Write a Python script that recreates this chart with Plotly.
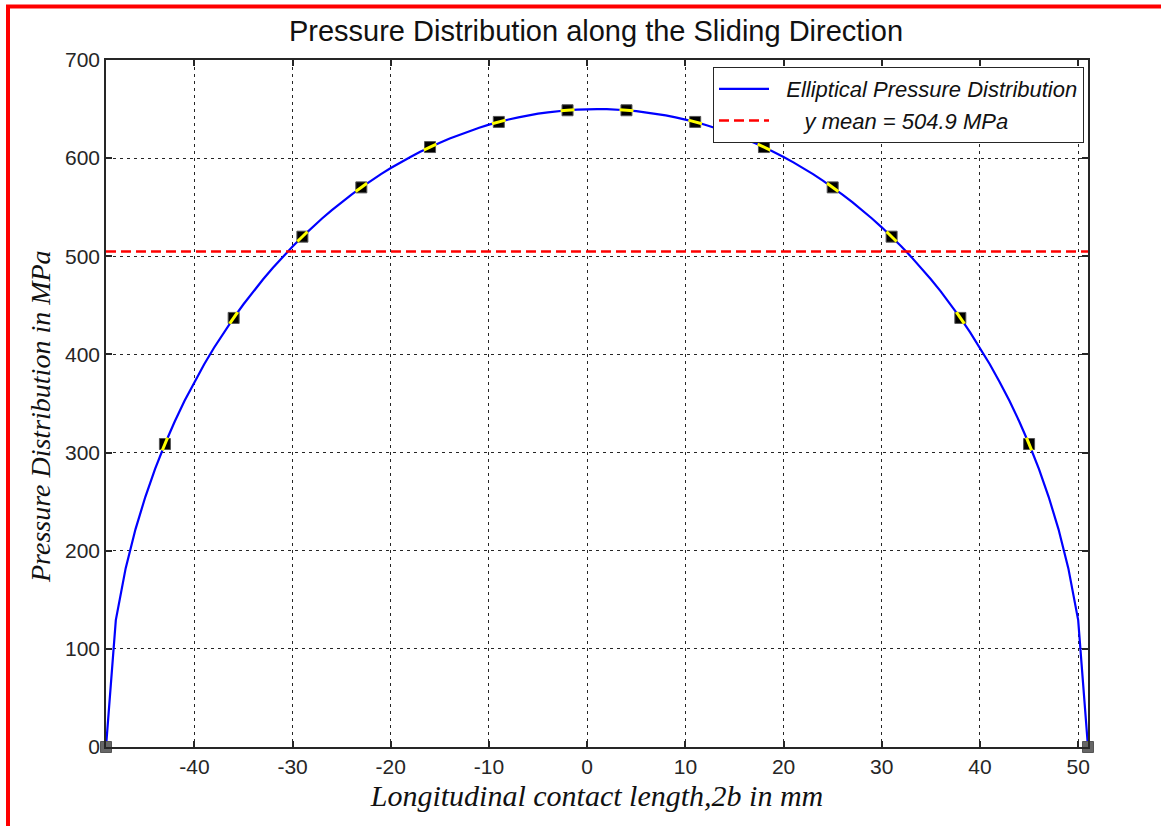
import numpy as np
import plotly.graph_objects as go

# ---------------- data ----------------
CURVE_X = list(range(-49, 52))
CURVE_Y = [0.0, 129.3, 182.0, 221.8, 254.7, 283.3, 308.7, 331.7, 352.7, 372.0,
           390.0, 406.8, 422.5, 437.2, 451.1, 464.2, 476.6, 488.3, 499.4, 510.0,
           520.0, 529.5, 538.5, 547.1, 555.2, 562.9, 570.2, 577.1, 583.7, 589.9,
           595.7, 601.2, 606.4, 611.3, 615.8, 620.1, 624.0, 627.6, 631.0, 634.1,
           636.9, 639.4, 641.6, 643.6, 645.3, 646.7, 647.9, 648.8, 649.5, 649.9,
           650.0,
           649.9, 649.5, 648.8, 647.9, 646.7, 645.3, 643.6, 641.6, 639.4, 636.9,
           634.1, 631.0, 627.6, 624.0, 620.1, 615.8, 611.3, 606.4, 601.2, 595.7,
           589.9, 583.7, 577.1, 570.2, 562.9, 555.2, 547.1, 538.5, 529.5, 520.0,
           510.0, 499.4, 488.3, 476.6, 464.2, 451.1, 437.2, 422.5, 406.8, 390.0,
           372.0, 352.7, 331.7, 308.7, 283.3, 254.7, 221.8, 182.0, 129.3, 0.0]

MARK_X = [-43, -36, -29, -23, -16, -9, -2, 4, 11, 18, 25, 31, 38, 45]
MARK_Y = [308.7, 437.2, 520.0, 570.2, 611.3, 636.9, 648.8, 648.8, 636.9, 611.3,
          570.2, 520.0, 437.2, 308.7]

END_X = [-49, 51]
END_Y = [0.0, 0.0]

Y_MEAN = 504.9

TITLE = "Pressure Distribution along the Sliding Direction"
X_TITLE = "Longitudinal contact length,2b in mm"
Y_TITLE = "Pressure Distribution in MPa"
LEG_CURVE = "\u00a0\u00a0Elliptical Pressure Distribution"
LEG_MEAN = "\u00a0\u00a0\u00a0\u00a0 y mean = 504.9 MPa"

X_RANGE = [-49, 51]
Y_RANGE = [0, 700]
X_TICKS = [-40, -30, -20, -10, 0, 10, 20, 30, 40, 50]
X_TICK_TEXT = ["-40", "-30", "-20", "-10", "0", "10", "20", "30", "40", "50"]
Y_TICKS = [0, 100, 200, 300, 400, 500, 600, 700]
Y_TICK_TEXT = ["0", "100", "200", "300", "400", "500", "600", "700"]

# ---------------- layout geometry ----------------
W, H = 1161, 826
L, R, T, B = 106, 1161 - 1088, 60, 826 - 747
PW, PH = W - L - R, H - T - B

# slope of curve at markers (for the yellow tick inside markers)
cx = np.array(CURVE_X, dtype=float)
cy = np.array(CURVE_Y, dtype=float)
grad = np.gradient(cy, cx)
sl = np.interp(MARK_X, cx, grad)
px_x = PW / (X_RANGE[1] - X_RANGE[0])
px_y = PH / (Y_RANGE[1] - Y_RANGE[0])
angles = list(-np.degrees(np.arctan(sl * px_y / px_x)))

fig = go.Figure()

fig.add_trace(go.Scatter(
    x=CURVE_X, y=CURVE_Y, mode="lines", name=LEG_CURVE,
    line=dict(color="#0000FF", width=2.2), showlegend=True))

fig.add_trace(go.Scatter(
    x=[X_RANGE[0], X_RANGE[1]], y=[Y_MEAN, Y_MEAN], mode="lines", name=LEG_MEAN,
    line=dict(color="#FF0000", width=2.5, dash="10px,5px"), showlegend=True))

fig.add_trace(go.Scatter(
    x=MARK_X, y=MARK_Y, mode="markers", showlegend=False,
    marker=dict(symbol="square", size=11, color="#000000",
                line=dict(color="#555555", width=1))))

fig.add_trace(go.Scatter(
    x=MARK_X, y=MARK_Y, mode="markers", showlegend=False,
    marker=dict(symbol="line-ew", size=10, angle=angles,
                line=dict(color="#FFFF00", width=3))))

fig.add_trace(go.Scatter(
    x=END_X, y=END_Y, mode="markers", showlegend=False, cliponaxis=False,
    marker=dict(symbol="square", size=11, color="#666666",
                line=dict(color="#555555", width=1))))

axis_common = dict(
    showline=True, linecolor="#262626", linewidth=1.5, mirror="allticks",
    ticks="inside", ticklen=6, tickcolor="#262626", tickwidth=1.5,
    showgrid=True, gridcolor="#262626", gridwidth=1, griddash="3px,4px",
    zeroline=False,
    tickfont=dict(family="Liberation Sans, Arial", size=21, color="#262626"),
)

fig.update_xaxes(range=X_RANGE, tickvals=X_TICKS, ticktext=X_TICK_TEXT, **axis_common,
                 title=dict(text=X_TITLE, standoff=8,
                            font=dict(family="Liberation Serif, Times New Roman",
                                      size=30, color="#111111", style="italic")))
fig.update_yaxes(range=Y_RANGE, tickvals=Y_TICKS, ticktext=Y_TICK_TEXT, **axis_common)


def px2paper_x(p):
    return (p - L) / PW


def px2paper_y(p):
    return (H - B - p) / PH


fig.update_layout(
    width=W, height=H,
    margin=dict(l=L, r=R, t=T, b=B),
    paper_bgcolor="white", plot_bgcolor="white",
    title=dict(text=TITLE, x=596 / W, xanchor="center", y=1 - 31 / H, yanchor="middle",
               font=dict(family="Liberation Sans, Arial", size=29, color="#111111")),
    legend=dict(x=px2paper_x(713), y=px2paper_y(67), xanchor="left", yanchor="top",
                bgcolor="white", bordercolor="#262626", borderwidth=1,
                font=dict(family="Liberation Sans, Arial", size=22, color="#111111",
                          style="italic"),
                itemwidth=50, tracegroupgap=0),
    annotations=[
        dict(text=Y_TITLE, xref="paper", yref="paper",
             x=px2paper_x(40), y=px2paper_y(417), xanchor="center", yanchor="middle",
             textangle=-90, showarrow=False,
             font=dict(family="Liberation Serif, Times New Roman",
                       size=28, color="#111111", style="italic")),
    ],
    shapes=[
        dict(type="line", xref="paper", yref="paper",
             x0=px2paper_x(8), x1=px2paper_x(8), y0=px2paper_y(5), y1=px2paper_y(H + 5),
             line=dict(color="#FF0000", width=4)),
        dict(type="line", xref="paper", yref="paper",
             x0=px2paper_x(6), x1=px2paper_x(W + 5), y0=px2paper_y(6.5), y1=px2paper_y(6.5),
             line=dict(color="#FF0000", width=4)),
    ],
)

fig.write_html("out.html")
